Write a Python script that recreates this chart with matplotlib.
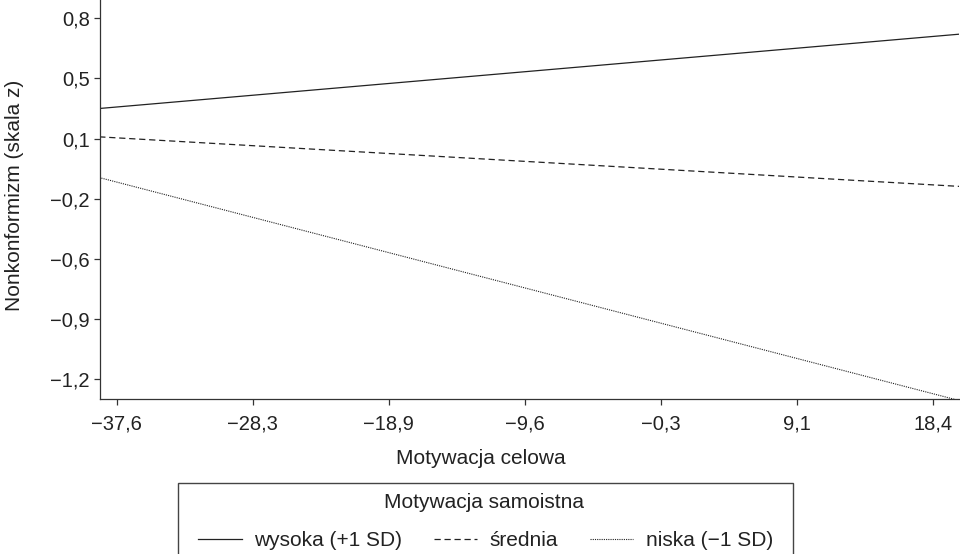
import matplotlib
matplotlib.use("Agg")
import matplotlib.pyplot as plt
import numpy as np
from matplotlib.ticker import FixedLocator
from matplotlib.patches import Rectangle

plt.rcParams['font.family'] = ['Liberation Sans', 'DejaVu Sans']

# data (line end points)
x_ends = [-38.8, 20.2]
wysoka = [0.29, 0.71]
srednia = [0.13, -0.15]
niska = [-0.10, -1.36]

x_ticks = [-37.6, -28.27, -18.93, -9.6, -0.27, 9.07, 18.4]
x_ticklabels = ['\u221237,6', '\u221228,3', '\u221218,9', '\u22129,6', '\u22120,3', '9,1', '18,4']
y_ticks = [0.8, 0.46, 0.12, -0.22, -0.56, -0.9, -1.24]
y_ticklabels = ['0,8', '0,5', '0,1', '\u22120,2', '\u22120,6', '\u22120,9', '\u22121,2']

ink = '#222222'
fs = 14.5

fig = plt.figure(figsize=(9.6, 5.54), dpi=100)
ax = fig.add_axes([99.5/960, 155/554, 859.5/960, 399/554])

l1, = ax.plot(x_ends, wysoka, color=ink, lw=0.9, linestyle='-')
l2, = ax.plot(x_ends, srednia, color=ink, lw=0.9, linestyle=(0, (5, 3)))
l3, = ax.plot(x_ends, niska, color=ink, lw=0.8, linestyle=(0, (1, 1)))

ax.set_xlim(-38.78, 20.17)
ax.set_ylim(-1.351, 0.903)

ax.xaxis.set_major_locator(FixedLocator(x_ticks))
ax.yaxis.set_major_locator(FixedLocator(y_ticks))
ax.set_xticklabels(x_ticklabels)
ax.set_yticklabels(y_ticklabels)

for s in ['top', 'right']:
    ax.spines[s].set_visible(False)
for s in ['left', 'bottom']:
    ax.spines[s].set_color('#333333')
    ax.spines[s].set_linewidth(0.9)

ax.tick_params(axis='both', direction='out', length=4, width=0.9, color='#333333',
               labelsize=fs, labelcolor=ink)
ax.tick_params(axis='x', pad=7)
ax.tick_params(axis='y', pad=3)

ax.set_xlabel('Motywacja celowa', fontsize=15, color=ink)
ax.xaxis.label.set_va('center')
ax.xaxis.set_label_coords((481 - 99.5)/859.5, -(458 - 399)/399)

ax.set_ylabel('Nonkonformizm (skala z)', fontsize=15, color=ink)
ax.yaxis.label.set_va('center')
ax.yaxis.set_label_coords((15 - 99.5)/859.5, (399 - 195)/399)

# legend frame, cut off by the bottom of the figure
fig.patches.append(Rectangle((178/960, -0.05), 615/960, (554 - 483)/554 + 0.05,
                             transform=fig.transFigure, fill=False,
                             edgecolor='#444444', linewidth=1.0))
fig.text(484/960, 1 - 503/554, 'Motywacja samoistna', ha='center', va='center',
         fontsize=15, color=ink)
fig.legend([l1, l2, l3], ['wysoka (+1 SD)', 'średnia', 'niska (\u22121 SD)'],
           ncol=3, frameon=False, loc='center', bbox_to_anchor=(485.5/960, 1 - 541/554),
           fontsize=15, labelcolor=ink, handlelength=2.1, handletextpad=0.6,
           columnspacing=1.5, borderpad=0, borderaxespad=0)

fig.savefig('out.png', dpi=100)
